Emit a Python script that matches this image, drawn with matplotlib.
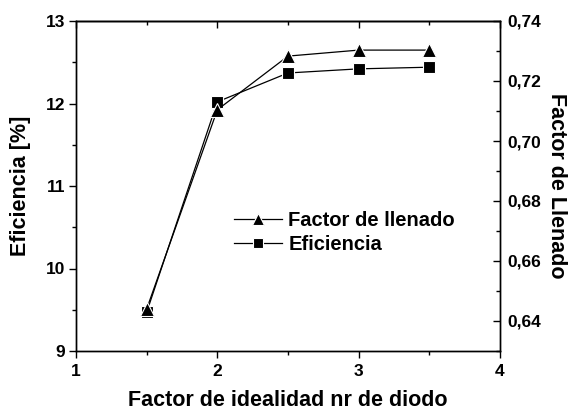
import matplotlib
matplotlib.use("Agg")
import matplotlib.pyplot as plt
from matplotlib.ticker import MultipleLocator, FuncFormatter

plt.rcParams['font.family'] = ['Liberation Sans', 'DejaVu Sans']
plt.rcParams['font.weight'] = 'bold'

x = [1.5, 2.0, 2.5, 3.0, 3.5]
eficiencia = [9.47, 12.02, 12.37, 12.42, 12.44]
factor_llenado = [0.644, 0.7104, 0.7283, 0.7303, 0.7303]

fig = plt.figure(figsize=(5.69, 4.12), dpi=100)
ax = fig.add_axes([76/569, 1-351/412, 424/569, 330/412])
ax2 = ax.twinx()

l2, = ax2.plot(x, factor_llenado, color='black', lw=0.9, marker='^', ms=9.5,
               markeredgecolor='white', markeredgewidth=0.8, label='Factor de llenado')
l1, = ax.plot(x, eficiencia, color='black', lw=0.9, marker='s', ms=8.5,
              markeredgecolor='white', markeredgewidth=0.8, label='Eficiencia')

ax.set_xlim(1, 4)
ax.set_ylim(9, 13)
ax2.set_ylim(0.63, 0.74)

ax.xaxis.set_major_locator(MultipleLocator(1))
ax.xaxis.set_minor_locator(MultipleLocator(0.5))
ax.yaxis.set_major_locator(MultipleLocator(1))
ax.yaxis.set_minor_locator(MultipleLocator(0.5))
ax2.yaxis.set_major_locator(MultipleLocator(0.02))
ax2.yaxis.set_minor_locator(MultipleLocator(0.01))
ax2.yaxis.set_major_formatter(FuncFormatter(lambda v, p: f"{v:.2f}".replace('.', ',')))

ax.tick_params(axis='x', which='both', direction='out', top=False, labeltop=False)
ax.tick_params(axis='x', which='major', length=5, width=1, pad=4)
ax.tick_params(axis='x', which='minor', length=3, width=1)
ax.tick_params(axis='y', which='both', direction='out', right=False)
ax.tick_params(axis='y', which='major', length=5, width=1, pad=3)
ax.tick_params(axis='y', which='minor', length=3, width=1)
ax2.tick_params(axis='y', which='both', direction='in')
ax2.tick_params(axis='y', which='major', length=5, width=1, pad=5)
ax2.tick_params(axis='y', which='minor', length=3, width=1)

# top ticks inward
secx = ax.secondary_xaxis('top')
secx.xaxis.set_major_locator(MultipleLocator(1))
secx.xaxis.set_minor_locator(MultipleLocator(0.5))
secx.tick_params(axis='x', which='both', direction='in', labeltop=False)
secx.tick_params(axis='x', which='major', length=5, width=1)
secx.tick_params(axis='x', which='minor', length=3, width=1)
secx.spines['top'].set_linewidth(1)

for a in (ax, ax2):
    for s in a.spines.values():
        s.set_linewidth(1)
    for lab in a.get_xticklabels() + a.get_yticklabels():
        lab.set_fontsize(12.5)
        lab.set_fontweight('bold')

ax.set_xlabel('Factor de idealidad nr de diodo', fontsize=15.5, fontweight='bold', labelpad=8)
ax.set_ylabel('Eficiencia [%]', fontsize=15.5, fontweight='bold', labelpad=10)
ax2.set_ylabel('Factor de Llenado', fontsize=15.5, fontweight='bold', rotation=270, labelpad=19)

leg = ax.legend([l2, l1], ['Factor de llenado', 'Eficiencia'], loc='upper left',
                bbox_to_anchor=(0.33, 0.48), frameon=False, prop={'size': 14.5, 'weight': 'bold'},
                handlelength=2.4, handletextpad=0.3, labelspacing=0.28, markerscale=0.85)

fig.savefig('out.png', dpi=100)
